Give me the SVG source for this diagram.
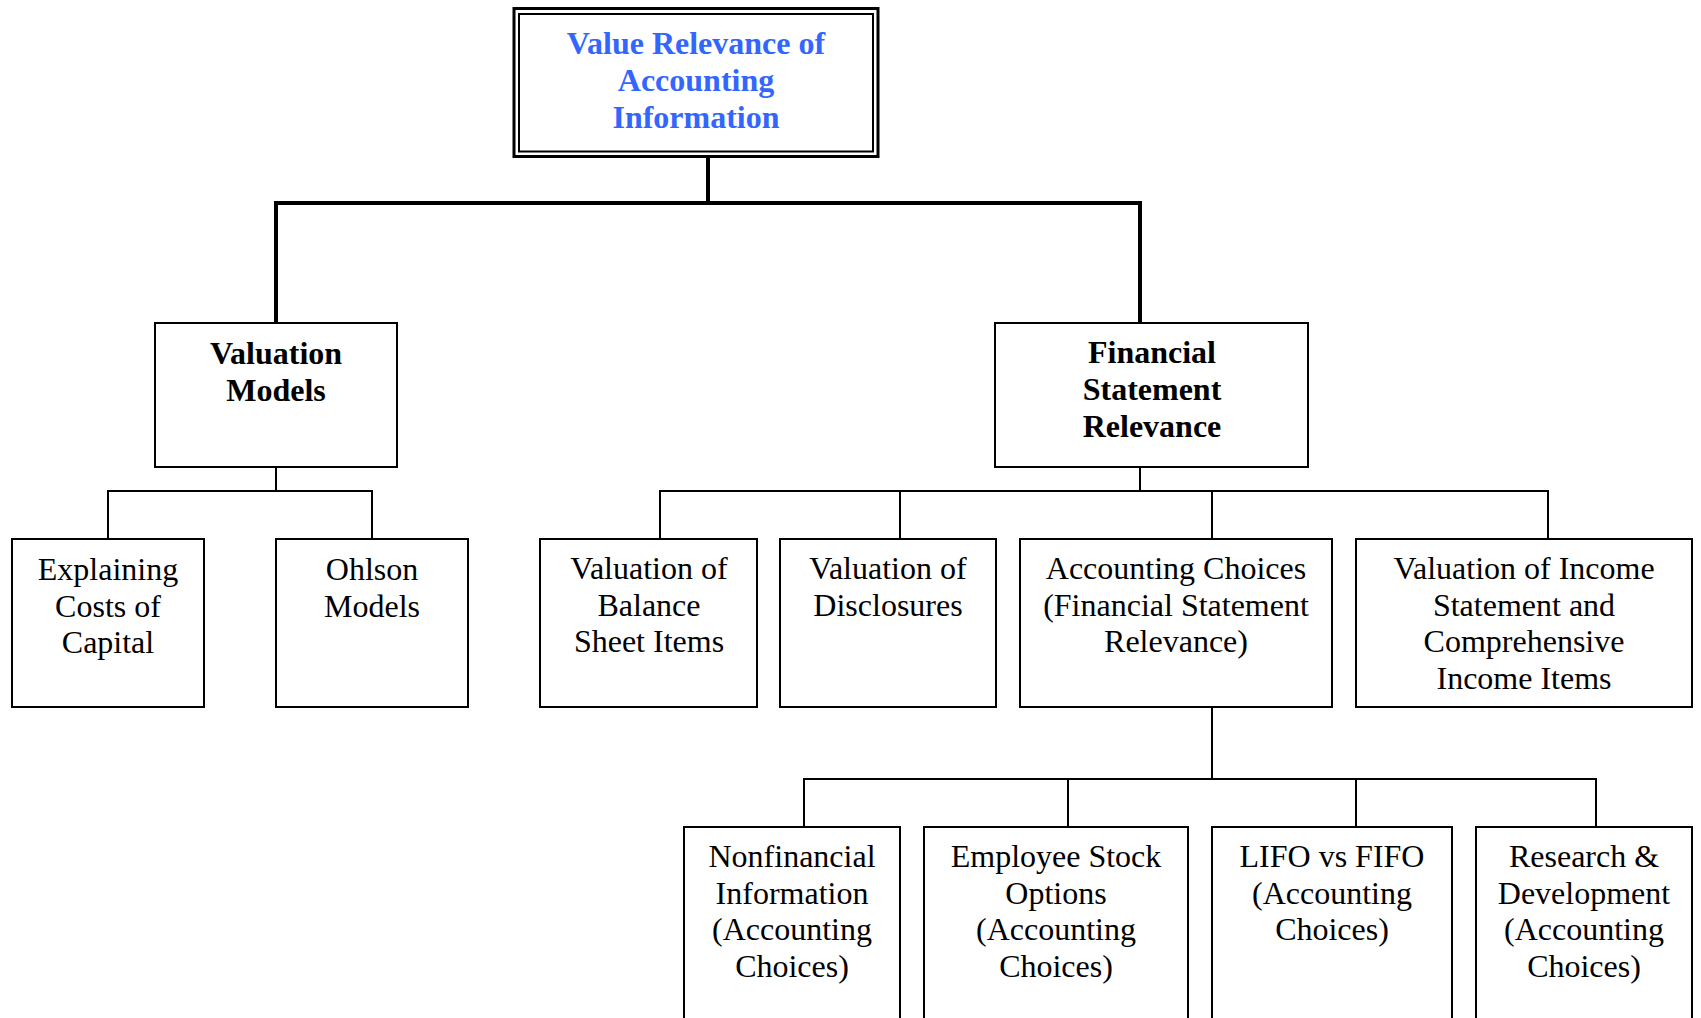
<svg xmlns="http://www.w3.org/2000/svg" width="1701" height="1018" viewBox="0 0 1701 1018">
<style>
  .box { fill: #ffffff; stroke: #000000; stroke-width: 2; }
  .t { font-family: "Liberation Serif", "Times New Roman", serif; font-size: 32px; fill: #000000; text-anchor: middle; }
  .b { font-weight: bold; }
  .title { font-family: "Liberation Serif", "Times New Roman", serif; font-size: 32px; font-weight: bold; fill: #3366FF; text-anchor: middle; }
  .thick { fill: none; stroke: #000000; stroke-width: 4; stroke-linejoin: miter; stroke-linecap: square; }
  .thin { fill: none; stroke: #000000; stroke-width: 2; }
</style>
<rect width="1701" height="1018" fill="#ffffff"/>
<g id="connectors">
  <path class="thick" d="M708 157 V203"/>
  <path class="thick" d="M276 323 V203 H1140 V323"/>
  <path class="thin" d="M276 467 V491"/>
  <path class="thin" d="M108 539 V491 H372 V539"/>
  <path class="thin" d="M1140 467 V491"/>
  <path class="thin" d="M660 539 V491 H1548 V539"/>
  <path class="thin" d="M900 491 V539"/>
  <path class="thin" d="M1212 491 V539"/>
  <path class="thin" d="M1212 707 V779"/>
  <path class="thin" d="M804 827 V779 H1596 V827"/>
  <path class="thin" d="M1068 779 V827"/>
  <path class="thin" d="M1356 779 V827"/>
</g>
<g id="root">
  <rect x="514" y="8.5" width="364" height="148" fill="#ffffff" stroke="#000" stroke-width="3"/>
  <rect x="519" y="14" width="354" height="137.5" fill="none" stroke="#000" stroke-width="2"/>
  <text class="title" x="696" y="54">Value Relevance of</text>
  <text class="title" x="696" y="91">Accounting</text>
  <text class="title" x="696" y="128">Information</text>
</g>
<g id="valuation-models">
  <rect class="box" x="155" y="323" width="242" height="144"/>
  <text class="t b" x="276" y="364">Valuation</text>
  <text class="t b" x="276" y="401">Models</text>
</g>
<g id="financial-statement-relevance">
  <rect class="box" x="995" y="323" width="313" height="144"/>
  <text class="t b" x="1152" y="363">Financial</text>
  <text class="t b" x="1152" y="400">Statement</text>
  <text class="t b" x="1152" y="437">Relevance</text>
</g>
<g id="explaining-costs">
  <rect class="box" x="12" y="539" width="192" height="168"/>
  <text class="t" x="108" y="580">Explaining</text>
  <text class="t" x="108" y="617">Costs of</text>
  <text class="t" x="108" y="653">Capital</text>
</g>
<g id="ohlson-models">
  <rect class="box" x="276" y="539" width="192" height="168"/>
  <text class="t" x="372" y="580">Ohlson</text>
  <text class="t" x="372" y="617">Models</text>
</g>
<g id="balance-sheet">
  <rect class="box" x="540" y="539" width="217" height="168"/>
  <text class="t" x="649" y="579">Valuation of</text>
  <text class="t" x="649" y="616">Balance</text>
  <text class="t" x="649" y="652">Sheet Items</text>
</g>
<g id="disclosures">
  <rect class="box" x="780" y="539" width="216" height="168"/>
  <text class="t" x="888" y="579">Valuation of</text>
  <text class="t" x="888" y="616">Disclosures</text>
</g>
<g id="accounting-choices">
  <rect class="box" x="1020" y="539" width="312" height="168"/>
  <text class="t" x="1176" y="579">Accounting Choices</text>
  <text class="t" x="1176" y="616">(Financial Statement</text>
  <text class="t" x="1176" y="652">Relevance)</text>
</g>
<g id="income-statement">
  <rect class="box" x="1356" y="539" width="336" height="168"/>
  <text class="t" x="1524" y="579">Valuation of Income</text>
  <text class="t" x="1524" y="616">Statement and</text>
  <text class="t" x="1524" y="652">Comprehensive</text>
  <text class="t" x="1524" y="689">Income Items</text>
</g>
<g id="nonfinancial">
  <rect class="box" x="684" y="827" width="216" height="200"/>
  <text class="t" x="792" y="867">Nonfinancial</text>
  <text class="t" x="792" y="904">Information</text>
  <text class="t" x="792" y="940">(Accounting</text>
  <text class="t" x="792" y="977">Choices)</text>
</g>
<g id="employee-stock-options">
  <rect class="box" x="924" y="827" width="264" height="200"/>
  <text class="t" x="1056" y="867">Employee Stock</text>
  <text class="t" x="1056" y="904">Options</text>
  <text class="t" x="1056" y="940">(Accounting</text>
  <text class="t" x="1056" y="977">Choices)</text>
</g>
<g id="lifo-fifo">
  <rect class="box" x="1212" y="827" width="240" height="200"/>
  <text class="t" x="1332" y="867">LIFO vs FIFO</text>
  <text class="t" x="1332" y="904">(Accounting</text>
  <text class="t" x="1332" y="940">Choices)</text>
</g>
<g id="research-development">
  <rect class="box" x="1476" y="827" width="216" height="200"/>
  <text class="t" x="1584" y="867">Research &amp;</text>
  <text class="t" x="1584" y="904">Development</text>
  <text class="t" x="1584" y="940">(Accounting</text>
  <text class="t" x="1584" y="977">Choices)</text>
</g>
</svg>
